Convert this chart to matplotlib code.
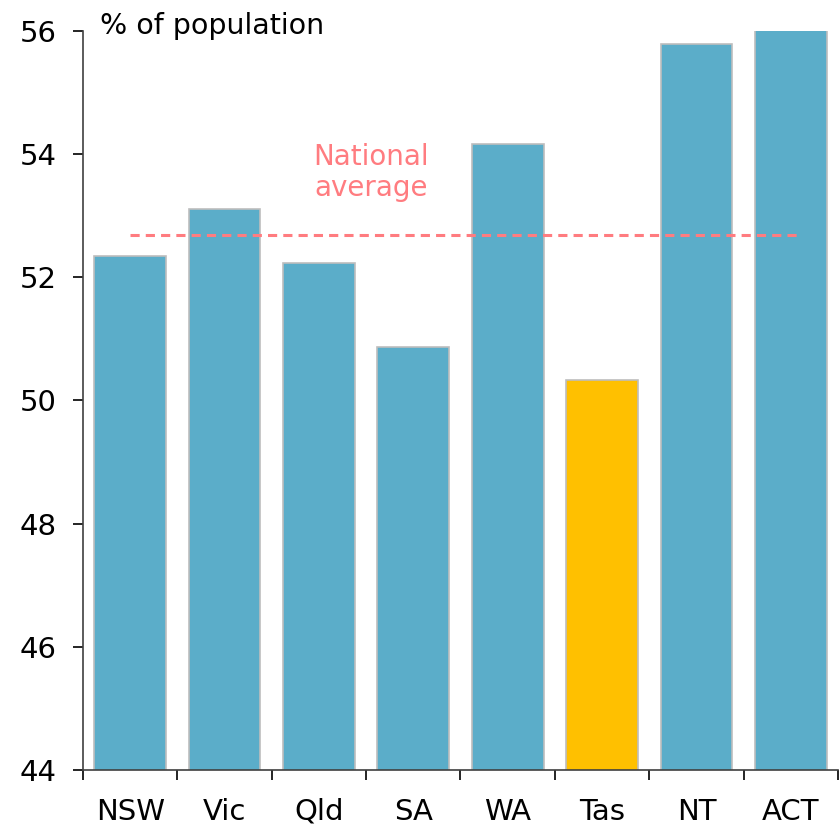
import matplotlib
matplotlib.use("Agg")
import matplotlib.pyplot as plt
import numpy as np

categories = ["NSW", "Vic", "Qld", "SA", "WA", "Tas", "NT", "ACT"]
values = [52.35, 53.11, 52.23, 50.87, 54.17, 50.33, 55.79, 56.5]
national_average = 52.69
colors = ["#5BADC9"] * 5 + ["#FFC000"] + ["#5BADC9"] * 2

plt.rcParams['font.family'] = ['DejaVu Sans']
fig = plt.figure(figsize=(8.4, 8.25), dpi=100)
ax = fig.add_axes([0.0988, 0.0667, 0.8988, 0.8957])
x = np.arange(len(categories))
ax.bar(x, values, width=0.76, color=colors, edgecolor="#BDBDBD", linewidth=1.2)
ax.plot([0, 7.1], [national_average, national_average], color="#FF7C80",
        linestyle=(0, (3, 2)), linewidth=2.2)
ax.text(2.55, 53.7, "National\naverage", color="#FF7C80", fontsize=20,
        ha="center", va="center", linespacing=1.15)
ax.set_xlim(-0.5, 7.5)
ax.set_ylim(44, 56)
ax.set_yticks([44, 46, 48, 50, 52, 54, 56])
ax.set_xticks(np.arange(-0.5, 8.0, 1.0))
ax.set_xticklabels([])
ax.set_xticks(x, minor=True)
ax.set_xticklabels(categories, minor=True)
ax.tick_params(axis="x", which="minor", length=0, pad=20, labelsize=21)
ax.tick_params(axis="x", which="major", direction="out", length=7, width=1.2)
ax.tick_params(axis="y", direction="out", length=7, width=1.2, labelsize=21, pad=12)
for s in ["top", "right"]:
    ax.spines[s].set_visible(False)
for s in ["left", "bottom"]:
    ax.spines[s].set_color("#404040")
    ax.spines[s].set_linewidth(1.2)
fig.text(100/840, 1 - 26/825, "% of population", fontsize=20.5, ha="left", va="center")
fig.savefig("out.png", dpi=100)
